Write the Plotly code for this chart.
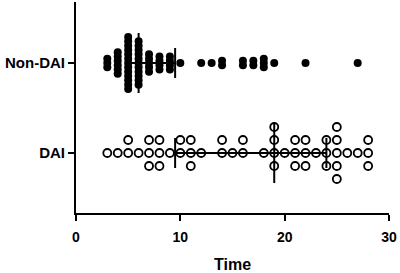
import numpy as np
import plotly.graph_objects as go

# ---------------- data ----------------
categories = ["DAI", "Non-DAI"]
tick_x = [0, 10, 20, 30]

non_dai_times = [
    3, 3, 3,
    4, 4, 4, 4, 4, 4,
    5, 5, 5, 5, 5, 5, 5, 5, 5, 5, 5, 5, 5,
    6, 6, 6, 6, 6, 6, 6, 6, 6, 6, 6,
    7, 7, 7, 7, 7,
    8, 8, 8, 8,
    9, 9, 9, 9,
    10, 12, 13, 14, 14, 16, 16, 17, 17, 18, 18, 18, 19, 22, 27,
]

dai_times = [
    3, 4, 5, 5, 6, 7, 7, 7, 8, 8, 8, 9, 10, 10, 11, 11, 11, 12,
    14, 14, 15, 16, 16, 18, 19, 19, 19, 19, 20,
    21, 21, 21, 22, 22, 22, 23, 24, 24, 24,
    25, 25, 25, 25, 25, 26, 27, 28, 28, 28,
]

# ---------------- layout constants ----------------
W, H = 400, 273
M_L, M_R, M_T, M_B = 76, 11, 2, 60
PX_PER_ROW = 90.0           # pixels between the two category rows
Y_RANGE = [-0.667, 1.678]

def px(p):
    return p / PX_PER_ROW

FONT = "Liberation Sans, Arial, sans-serif"


def swarm(values, centre, step, centred):
    """Spread repeated values vertically (beeswarm style)."""
    xs, ys = [], []
    order = [0, 1, -1, 2, -2, 3, -3, 4, -4]
    for v in sorted(set(values)):
        n = values.count(v)
        for i in range(n):
            if centred:
                off = (i - (n - 1) / 2) * step
            else:
                off = order[i] * step
            xs.append(v)
            ys.append(centre + off)
    return xs, ys


def summary_lines(values, centre):
    q1, med, q3 = np.percentile(values, [25, 50, 75], method="weibull")
    cap = px(15)
    mh = px(30)
    xs = [q1, q3, None, q1, q1, None, q3, q3, None, med, med]
    ys = [centre, centre, None, centre - cap, centre + cap, None,
          centre - cap, centre + cap, None, centre - mh, centre + mh]
    return xs, ys


fig = go.Figure()

# Non-DAI (filled dots)
nx, ny = swarm(non_dai_times, 1, px(4.33), True)
fig.add_trace(go.Scatter(x=nx, y=ny, mode="markers",
                         marker=dict(symbol="circle", size=8, color="black",
                                     line=dict(width=0)),
                         hoverinfo="skip"))
# DAI (open circles)
dx, dy = swarm(dai_times, 0, px(13), False)
fig.add_trace(go.Scatter(x=dx, y=dy, mode="markers",
                         marker=dict(symbol="circle-open", size=8, color="black",
                                     line=dict(width=1.8, color="black")),
                         hoverinfo="skip"))

for vals, c in [(non_dai_times, 1), (dai_times, 0)]:
    lx, ly = summary_lines(vals, c)
    fig.add_trace(go.Scatter(x=lx, y=ly, mode="lines",
                             line=dict(color="black", width=2),
                             hoverinfo="skip"))

fig.update_layout(
    width=W, height=H,
    margin=dict(l=M_L, r=M_R, t=M_T, b=M_B),
    plot_bgcolor="white", paper_bgcolor="white",
    showlegend=False,
    font=dict(family=FONT, color="black"),
)

fig.update_xaxes(
    range=[0, 30], tickvals=tick_x, ticktext=[str(t) for t in tick_x],
    showgrid=False, zeroline=False,
    showline=True, linewidth=2, linecolor="black",
    ticks="outside", ticklen=6, tickwidth=2, tickcolor="black",
    ticklabelstandoff=4,
    tickfont=dict(family=FONT, size=14, weight="bold", color="black"),
    title=dict(text="Time", font=dict(family=FONT, size=16, weight="bold", color="black"),
               standoff=16),
    automargin=False,
)

fig.update_yaxes(
    range=Y_RANGE, tickvals=[0, 1], ticktext=categories,
    showgrid=False, zeroline=False,
    showline=True, linewidth=2, linecolor="black",
    ticks="outside", ticklen=6, tickwidth=2, tickcolor="black",
    tickfont=dict(family=FONT, size=15, weight="bold", color="black"),
    automargin=False,
)

fig.write_html("out.html", config={"displayModeBar": False},
               post_script="document.body.style.margin='0';")
